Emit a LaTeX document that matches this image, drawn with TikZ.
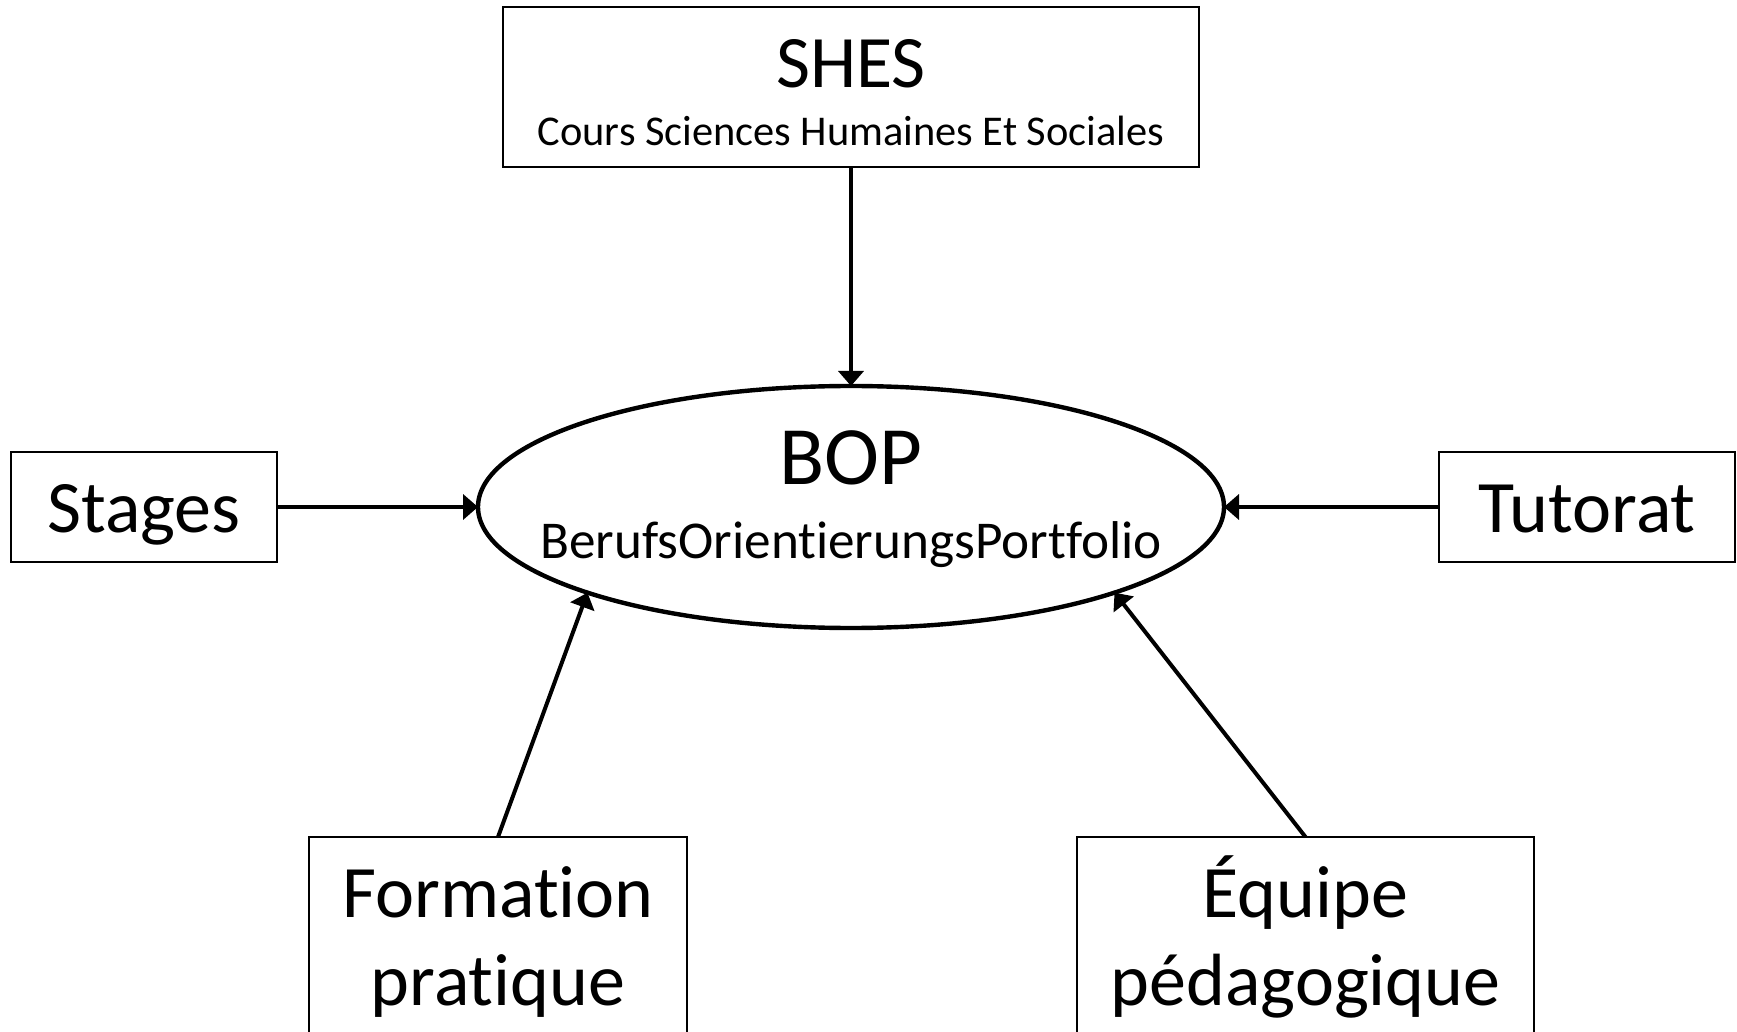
\documentclass[tikz,border=0pt]{standalone}
\usepackage{fontspec}
\setmainfont{Carlito}[RawFeature={-liga;-clig;-dlig}]
\usetikzlibrary{arrows.meta,shapes.geometric}
\newcommand{\bigfont}{\fontsize{37}{44}\selectfont}
\newcommand{\bopfont}{\fontsize{41.5}{48}\selectfont}
\newcommand{\subfont}{\fontsize{21.2}{26}\selectfont}
\newcommand{\berfont}{\fontsize{26.6}{30}\selectfont}
\tikzset{
  boxnode/.style={draw=black, line width=1pt, rectangle, inner sep=0pt, outer sep=0pt},
  onebox/.style={boxnode, font=\bigfont, text height=31pt, text depth=6pt},
  lbl/.style={inner sep=0pt, outer sep=0pt, anchor=base},
  arr/.style={line width=2pt, -{Triangle[length=7.5pt,width=12.5pt]}},
}
\begin{document}
\begin{tikzpicture}[x=0.5pt,y=-0.5pt]
\useasboundingbox (0,0) rectangle (1737,1032);
\clip (0,0) rectangle (1737,1032);
% top box
\node (shes) [boxnode, minimum width=348pt, minimum height=80pt] at (851,87) {};
\node (shesT) [lbl, font=\bigfont] at (851,87.5) {SHES};
\node (shesS) [lbl, font=\subfont] at (851,146) {Cours Sciences Humaines Et Sociales};
% ellipse
\node (bop) [draw=black, line width=2.2pt, ellipse, minimum width=373pt, minimum height=121pt, inner sep=0pt, outer sep=0pt] at (851,507) {};
\node (bopT) [lbl, font=\bopfont] at (851,485) {BOP};
\node (bopS) [lbl, font=\berfont] at (851,558.5) {BerufsOrientierungsPortfolio};
% side boxes
\node (stages) [onebox, minimum width=133pt, minimum height=55pt] at (144,507) {Stages};
\node (tutorat) [onebox, minimum width=148pt, minimum height=55pt] at (1587,507) {Tutorat};
% bottom boxes
\node (form) [boxnode, anchor=north, minimum width=189pt, minimum height=100pt] at (498,837) {};
\node (formA) [lbl, font=\bigfont] at (498,917) {Formation};
\node (formB) [lbl, font=\bigfont] at (498,1005) {pratique};
\node (equipe) [boxnode, anchor=north, minimum width=228.5pt, minimum height=100pt] at (1305.5,837) {};
\node (equipeA) [lbl, font=\bigfont] at (1305.5,917) {Équipe};
\node (equipeB) [lbl, font=\bigfont] at (1305.5,1005) {pédagogique};
% connectors
\draw[arr] (shes.south) -- (bop.north);
\draw[arr] (stages.east) -- (bop.west);
\draw[arr] (tutorat.west) -- (bop.east);
\draw[arr] (form.north) -- (bop.198);
\draw[arr] (equipe.north) -- (bop.342);
\end{tikzpicture}
\end{document}
